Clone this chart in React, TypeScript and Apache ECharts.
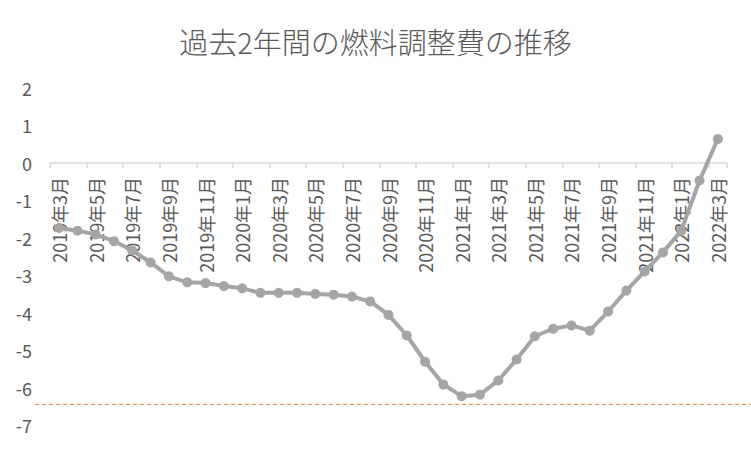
import React, { useEffect, useRef } from "react";
import * as echarts from "echarts";

const categories: string[] = [
  "2019年3月", "2019年4月", "2019年5月", "2019年6月", "2019年7月", "2019年8月",
  "2019年9月", "2019年10月", "2019年11月", "2019年12月",
  "2020年1月", "2020年2月", "2020年3月", "2020年4月", "2020年5月", "2020年6月",
  "2020年7月", "2020年8月", "2020年9月", "2020年10月", "2020年11月", "2020年12月",
  "2021年1月", "2021年2月", "2021年3月", "2021年4月", "2021年5月", "2021年6月",
  "2021年7月", "2021年8月", "2021年9月", "2021年10月", "2021年11月", "2021年12月",
  "2022年1月", "2022年2月", "2022年3月",
];

const values: number[] = [
  -1.74, -1.81, -1.91, -2.09, -2.34, -2.66, -3.03, -3.19, -3.21, -3.29,
  -3.35, -3.47, -3.47, -3.47, -3.5, -3.52, -3.57, -3.7, -4.06, -4.61,
  -5.31, -5.92, -6.23, -6.19, -5.81, -5.25, -4.63, -4.43, -4.34, -4.48,
  -3.97, -3.41, -2.9, -2.39, -1.81, -0.47, 0.64,
];

const referenceValue: number[] = [-6.45];

const yMin = -7;
const yMax = 2;

const gridTop = 88;
const gridBottom = 25;
const chartH = 450;

export default function App() {
  const ref = useRef<HTMLDivElement>(null);
  useEffect(() => {
    if (!ref.current) return;
    const chart = echarts.init(ref.current, undefined, { renderer: "svg" });
    const font = "'Noto Sans CJK JP', 'Noto Sans', sans-serif";
    const gridH = chartH - gridTop - gridBottom;
    const zeroOffset = -(gridH * (0 - yMin)) / (yMax - yMin);
    chart.setOption({
      animation: false,
      backgroundColor: "#ffffff",
      textStyle: { fontFamily: font },
      title: {
        text: "過去2年間の燃料調整費の推移",
        left: "center",
        top: 21,
        textStyle: { fontSize: 29, fontWeight: 300, color: "#595959", fontFamily: font },
      },
      grid: { left: 50, right: 24, top: gridTop, bottom: gridBottom, containLabel: false, outerBoundsMode: "none" },
      xAxis: {
        type: "category",
        data: categories,
        position: "bottom",
        offset: zeroOffset,
        boundaryGap: true,
        axisLine: { onZero: false, lineStyle: { color: "#d9d9d9", width: 1.5 } },
        axisTick: { show: true, interval: 1, length: 5, lineStyle: { color: "#d9d9d9", width: 1.5 } },
        axisLabel: {
          interval: 1,
          rotate: 90,
          margin: 14,
          fontSize: 18,
          color: "#595959",
          fontFamily: font,
        },
        splitLine: { show: false },
      },
      yAxis: {
        type: "value",
        min: yMin,
        max: yMax,
        interval: 1,
        axisLine: { show: false },
        axisTick: { show: false },
        splitLine: { show: false },
        axisLabel: { fontSize: 18, color: "#595959", margin: 18, fontFamily: font },
      },
      series: [
        {
          type: "line",
          data: values,
          symbol: "circle",
          symbolSize: 10,
          lineStyle: { color: "#a5a5a5", width: 4 },
          itemStyle: { color: "#a5a5a5" },
          z: 3,
        },
        {
          type: "custom",
          data: referenceValue.map((v) => [0, v]),
          clip: false,
          silent: true,
          z: 2,
          renderItem: (params: any, api: any) => {
            const y = api.coord([0, api.value(1)])[1];
            return {
              type: "line",
              shape: { x1: 35, y1: y, x2: api.getWidth(), y2: y },
              style: { stroke: "#ed7d31", lineWidth: 1, lineDash: [4, 3] },
            };
          },
        },
      ],
    });
    return () => chart.dispose();
  }, []);
  return <div ref={ref} style={{ width: 751, height: 450, position: "absolute", left: 0, top: 0 }} />;
}
